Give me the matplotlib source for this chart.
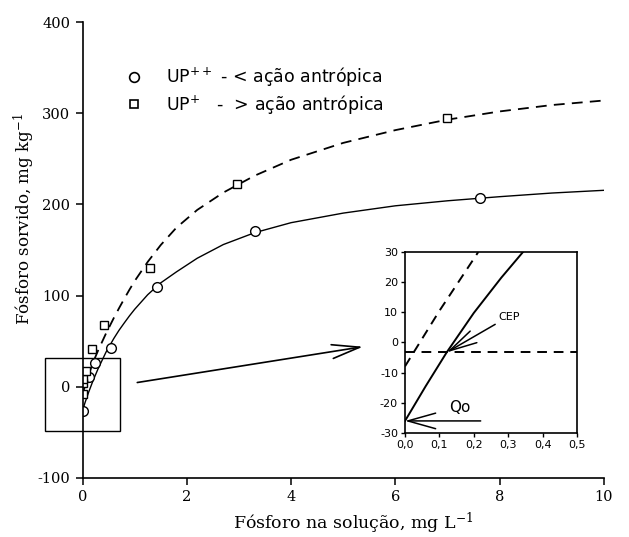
import matplotlib
matplotlib.use("Agg")
import matplotlib.pyplot as plt
from matplotlib.patches import Rectangle

plt.rcParams["axes.unicode_minus"] = False

up2_x = [0.0, 0.13, 0.23, 0.55, 1.42, 3.30, 7.62]
up2_y = [-26, 11, 26, 43, 109, 171, 207]
up1_x = [0.0, 0.0, 0.01, 0.07, 0.18, 0.42, 1.30, 2.97, 6.99]
up1_y = [-8, 4, 9, 17, 41, 68, 130, 222, 295]

# fitted curves
fit_x = [0, 0.05, 0.12, 0.2, 0.3, 0.45, 0.6, 0.7, 0.8, 0.9, 1.0, 1.25, 1.5, 1.8,
         2.2, 2.7, 3.3, 4.0, 5.0, 6.0, 7.0, 8.0, 9.0, 10]
fit_up2 = [-26, -17, -5.5, 6.5, 20, 38, 53, 62, 70, 77.8, 85, 101, 114, 126,
           141, 156, 169, 180, 190.5, 198.5, 204, 208.5, 212.5, 215.5]
fit_up1 = [-8, 1.3, 13.5, 26.5, 40, 58.5, 75.5, 86.2, 96.5, 106.5, 116, 137, 155.5, 174.5,
           194, 213, 231.5, 249, 267.5, 281.5, 293, 302, 309, 314]

# zoomed detail near the origin
ins_x_up2 = [0, 0.06, 0.121, 0.2, 0.28, 0.343]
ins_up2 = [-26, -14.5, -3.3, 9.8, 21.5, 30]
ins_x_up1 = [0, 0.1, 0.213]
ins_up1 = [-7.9, 10.5, 30]
cep_x, cep_y = 0.121, -3.3
qo = -26

x_ticks = [0, 2, 4, 6, 8, 10]
y_ticks = [-100, 0, 100, 200, 300, 400]
ins_x_ticks = [0.0, 0.1, 0.2, 0.3, 0.4, 0.5]
ins_x_labels = ["0,0", "0,1", "0,2", "0,3", "0,4", "0,5"]
ins_y_ticks = [-30, -20, -10, 0, 10, 20, 30]

serif = "DejaVu Serif"
sans = "DejaVu Sans"

fig = plt.figure(figsize=(6.29, 5.37), dpi=100)
ax = fig.add_axes([0.1312, 0.1099, 0.829, 0.849])

ax.plot(fit_x, fit_up2, color="k", lw=1.0)
ax.plot(fit_x, fit_up1, color="k", lw=1.3, dashes=(6, 4))
ax.plot(up2_x, up2_y, "o", ms=7, mfc="white", mec="k", mew=1.0)
ax.plot(up1_x, up1_y, "s", ms=6, mfc="white", mec="k", mew=1.0)

# legend drawn by hand
ax.plot([0.99], [340], "o", ms=7, mfc="white", mec="k", mew=1.2)
ax.plot([0.99], [310], "s", ms=6, mfc="white", mec="k", mew=1.2)
ax.text(1.6, 340, r"$\mathregular{UP^{++}}$ - < ação antrópica", family=sans,
        fontsize=12.5, va="center")
ax.text(1.6, 310, r"$\mathregular{UP^{+}}$   -  > ação antrópica", family=sans,
        fontsize=12.5, va="center")

ax.add_patch(Rectangle((-0.72, -48.5), 1.44, 80.5, fill=False, lw=1.0,
                       ec="k", clip_on=False))
ax.annotate("", xy=(5.38, 44), xytext=(1.05, 4.7),
            arrowprops=dict(arrowstyle="->,head_length=2.0,head_width=0.5",
                            mutation_scale=10, lw=1.2, color="k",
                            shrinkA=0, shrinkB=0))

ax.set_xlim(0, 10)
ax.set_ylim(-100, 400)
ax.set_xticks(x_ticks)
ax.set_yticks(y_ticks)
ax.set_xticklabels([str(t) for t in x_ticks], family=serif, fontsize=10.5)
ax.set_yticklabels([str(t) for t in y_ticks], family=serif, fontsize=10.5)
ax.tick_params(direction="out", length=5, width=1.1, pad=4)
for s in ["top", "right"]:
    ax.spines[s].set_visible(False)
for s in ["left", "bottom"]:
    ax.spines[s].set_linewidth(1.2)

ax.set_xlabel(r"Fósforo na solução, mg $\mathregular{L^{-1}}$", family=serif, fontsize=12.5)
ax.set_ylabel(r"Fósforo sorvido, mg $\mathregular{kg^{-1}}$", family=serif, fontsize=12)
ax.xaxis.set_label_coords(0.52, -0.072)
ax.yaxis.set_label_coords(-0.088, 0.568)

# inset
ins = fig.add_axes([0.6439, 0.1937, 0.2734, 0.337])
ins.plot(ins_x_up2, ins_up2, color="k", lw=1.4)
ins.plot(ins_x_up1, ins_up1, color="k", lw=1.4, dashes=(5, 3.5))
ins.axhline(cep_y, color="k", lw=1.4, dashes=(5, 3.5))
ins.annotate("CEP", xy=(cep_x, cep_y), xytext=(0.27, 8.6), family=sans,
             fontsize=8, va="center", ha="left",
             arrowprops=dict(arrowstyle="->,head_length=2.5,head_width=0.6",
                             mutation_scale=8, lw=1.1, color="k",
                             shrinkA=0, shrinkB=0))
ins.annotate("", xy=(0, qo), xytext=(0.22, qo),
             arrowprops=dict(arrowstyle="->,head_length=2.5,head_width=0.7",
                             mutation_scale=8, lw=1.1, color="k",
                             shrinkA=0, shrinkB=0))
ins.text(0.16, -21.5, "Qo", family=sans, fontsize=11, ha="center", va="center")
ins.set_xlim(0, 0.5)
ins.set_ylim(-30, 30)
ins.set_xticks(ins_x_ticks)
ins.set_xticklabels(ins_x_labels, family=sans, fontsize=8)
ins.set_yticks(ins_y_ticks)
ins.set_yticklabels([str(t) for t in ins_y_ticks], family=sans, fontsize=8)
ins.tick_params(direction="out", length=3, width=1.0, pad=2)
for s in ins.spines.values():
    s.set_linewidth(1.2)

fig.savefig("out.png", dpi=100)
